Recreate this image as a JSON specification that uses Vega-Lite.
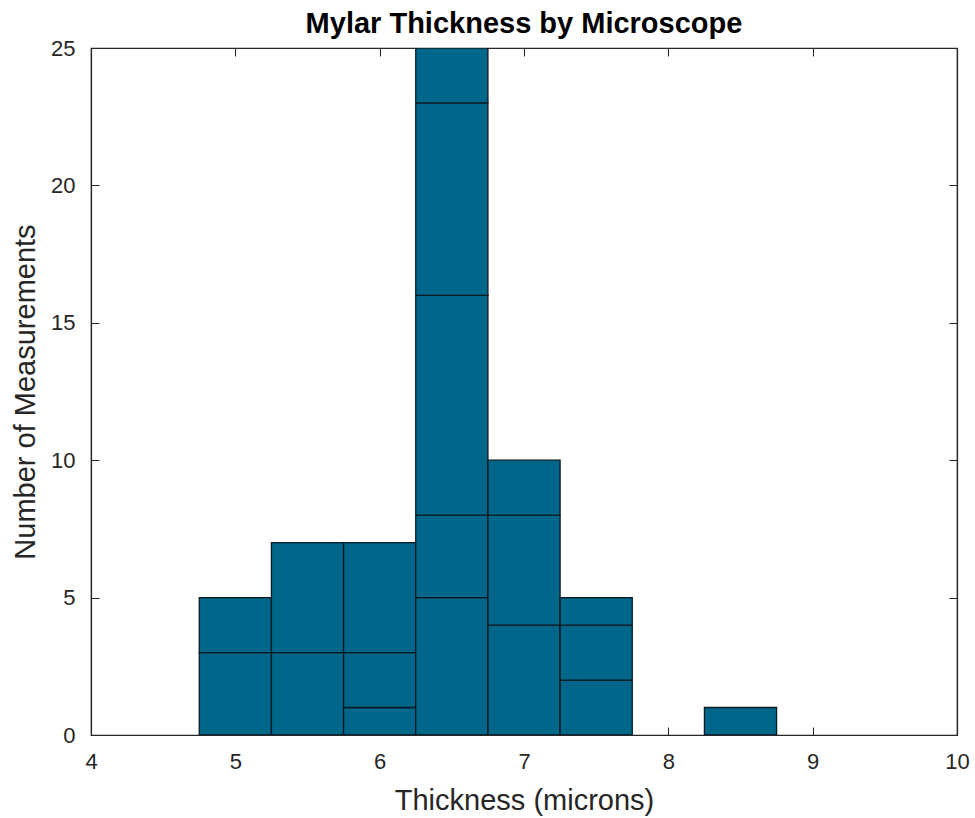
{
  "$schema": "https://vega.github.io/schema/vega-lite/v6.json",
  "width": 866,
  "height": 687,
  "autosize": {"type": "none"},
  "padding": {"left": 91, "top": 48, "right": 18, "bottom": 83},
  "background": "white",
  "config": {
    "font": "Liberation Sans",
    "view": {"stroke": "#262626", "strokeWidth": 1.2},
    "axis": {
      "grid": false,
      "domainColor": "#262626",
      "tickColor": "#262626",
      "labelColor": "#262626",
      "titleColor": "#262626",
      "labelFontSize": 22,
      "titleFontSize": 29,
      "titleFontWeight": "normal",
      "labelFont": "Liberation Sans",
      "titleFont": "Liberation Sans",
      "labelFlush": false,
      "labelOverlap": false
    }
  },
  "title": {
    "text": "Mylar Thickness by Microscope",
    "fontSize": 29,
    "fontWeight": "bold",
    "color": "#000000",
    "font": "Liberation Sans",
    "offset": -2,
    "anchor": "middle"
  },
  "data": {
    "values": [
      {"bin_start": 4.75, "bin_end": 5.25, "layer": 1, "count": 3},
      {"bin_start": 4.75, "bin_end": 5.25, "layer": 2, "count": 2},
      {"bin_start": 5.25, "bin_end": 5.75, "layer": 1, "count": 3},
      {"bin_start": 5.25, "bin_end": 5.75, "layer": 2, "count": 4},
      {"bin_start": 5.75, "bin_end": 6.25, "layer": 1, "count": 1},
      {"bin_start": 5.75, "bin_end": 6.25, "layer": 2, "count": 2},
      {"bin_start": 5.75, "bin_end": 6.25, "layer": 3, "count": 4},
      {"bin_start": 6.25, "bin_end": 6.75, "layer": 1, "count": 5},
      {"bin_start": 6.25, "bin_end": 6.75, "layer": 2, "count": 3},
      {"bin_start": 6.25, "bin_end": 6.75, "layer": 3, "count": 8},
      {"bin_start": 6.25, "bin_end": 6.75, "layer": 4, "count": 7},
      {"bin_start": 6.25, "bin_end": 6.75, "layer": 5, "count": 2},
      {"bin_start": 6.75, "bin_end": 7.25, "layer": 1, "count": 4},
      {"bin_start": 6.75, "bin_end": 7.25, "layer": 2, "count": 4},
      {"bin_start": 6.75, "bin_end": 7.25, "layer": 3, "count": 2},
      {"bin_start": 7.25, "bin_end": 7.75, "layer": 1, "count": 2},
      {"bin_start": 7.25, "bin_end": 7.75, "layer": 2, "count": 2},
      {"bin_start": 7.25, "bin_end": 7.75, "layer": 3, "count": 1},
      {"bin_start": 8.25, "bin_end": 8.75, "layer": 1, "count": 1}
    ]
  },
  "layer": [
    {
      "transform": [
        {"stack": "count", "groupby": ["bin_start"], "sort": [{"field": "layer", "order": "ascending"}], "as": ["y_lo", "y_hi"]}
      ],
      "mark": {"type": "bar", "fill": "#00668A", "stroke": "#0a1a22", "strokeWidth": 1.3, "clip": true},
      "encoding": {
        "x": {
          "field": "bin_start", "type": "quantitative",
          "scale": {"domain": [4, 10], "nice": false, "zero": false},
          "axis": {"title": "Thickness (microns)", "values": [4,5,6,7,8,9,10], "tickSize": -8, "labelPadding": 24, "titlePadding": 14, "domainWidth": 1.2}
        },
        "x2": {"field": "bin_end"},
        "y": {
          "field": "y_lo", "type": "quantitative",
          "scale": {"domain": [0, 25], "nice": false},
          "axis": {"title": "Number of Measurements", "values": [0,5,10,15,20,25], "tickSize": -8, "labelPadding": 24, "titlePadding": 10, "domainWidth": 1.2}
        },
        "y2": {"field": "y_hi"}
      }
    },
    {
      "mark": {"type": "point", "opacity": 0},
      "encoding": {
        "x": {
          "field": "bin_start", "type": "quantitative",
          "scale": {"domain": [4, 10], "nice": false, "zero": false},
          "axis": {"orient": "top", "title": null, "labels": false, "values": [4,5,6,7,8,9,10], "tickSize": -8, "domainWidth": 1.2}
        },
        "y": {
          "field": "count", "type": "quantitative",
          "scale": {"domain": [0, 25], "nice": false},
          "axis": {"orient": "right", "title": null, "labels": false, "values": [0,5,10,15,20,25], "tickSize": -8, "domainWidth": 1.2}
        }
      }
    }
  ],
  "resolve": {"axis": {"x": "independent", "y": "independent"}}
}
